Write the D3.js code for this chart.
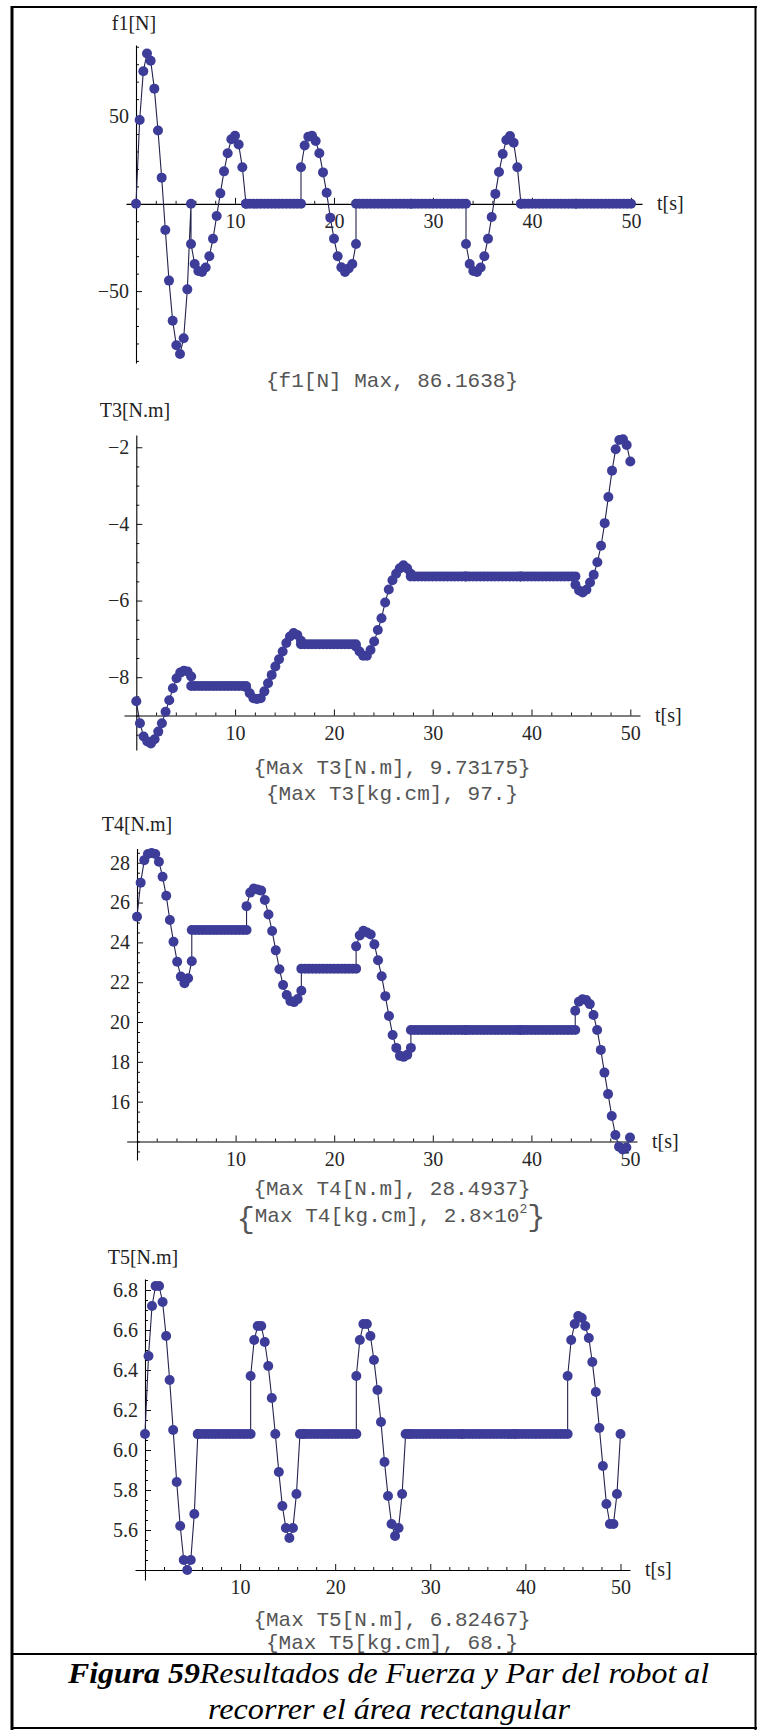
<!DOCTYPE html>
<html><head><meta charset="utf-8">
<script src="https://cdn.jsdelivr.net/npm/d3@7"></script>
<style>
body{margin:0;background:#fff;}
svg{display:block;}
.tick line{stroke:#111;stroke-width:1;}
.domain{stroke:#000;stroke-width:1.1;}
.axlabel{font-family:"Liberation Serif","Times New Roman",serif;font-size:20px;fill:#222;}
.mono{font-family:"Liberation Mono","Courier New",monospace;font-size:21px;fill:#555;}
.cap{font-family:"Liberation Serif","Times New Roman",serif;font-size:30px;font-style:italic;fill:#000;}
</style></head><body>
<svg id="fig" width="757" height="1730"></svg>
<script>
// ---- sampling grid: 9 motion segments, 16 samples each, over 50 s ----
const SEGMENTS = 9, SAMPLES = 16, DURATION = 50;

// ---- series values (16 per segment) ----
const f1Values = [
  0, 48, 76, 86.16, 82, 66, 42, 15, -15, -44, -67, -81, -86, -77, -49, 0,
  -23, -34.5, -38.5, -39, -36.5, -30, -20, -7, 6, 18.6, 29, 37, 39, 34, 21, 0,
  0, 0, 0, 0, 0, 0, 0, 0, 0, 0, 0, 0, 0, 0, 0, 0,
  21, 33.4, 38.5, 39, 36, 29, 18, 6.3, -8, -20, -30, -36.4, -39, -37, -34.5, -23,
  0, 0, 0, 0, 0, 0, 0, 0, 0, 0, 0, 0, 0, 0, 0, 0,
  0, 0, 0, 0, 0, 0, 0, 0, 0, 0, 0, 0, 0, 0, 0, 0,
  -23, -34.5, -38.5, -39, -36.5, -30, -20, -7.5, 5.7, 18.2, 28.5, 36.6, 38.8, 35, 21, 0,
  0, 0, 0, 0, 0, 0, 0, 0, 0, 0, 0, 0, 0, 0, 0, 0,
  0, 0, 0, 0, 0, 0, 0, 0, 0, 0, 0, 0, 0, 0, 0, 0
];
const t3Values = [
  -8.63, -9.2, -9.55, -9.68, -9.73, -9.62, -9.42, -9.2, -8.9, -8.6, -8.29, -8.03, -7.88, -7.83, -7.85, -7.98,
  -8.23, -8.23, -8.23, -8.23, -8.23, -8.23, -8.23, -8.23, -8.23, -8.23, -8.23, -8.23, -8.23, -8.23, -8.23, -8.23,
  -8.26, -8.42, -8.55, -8.57, -8.55, -8.37, -8.16, -7.94, -7.72, -7.53, -7.33, -7.11, -6.94, -6.85, -6.9, -7.05,
  -7.14, -7.14, -7.14, -7.14, -7.14, -7.14, -7.14, -7.14, -7.14, -7.14, -7.14, -7.14, -7.14, -7.14, -7.14, -7.14,
  -7.2, -7.33, -7.44, -7.44, -7.29, -7.07, -6.77, -6.46, -6.05, -5.71, -5.47, -5.3, -5.16, -5.08, -5.16, -5.3,
  -5.37, -5.37, -5.37, -5.37, -5.37, -5.37, -5.37, -5.37, -5.37, -5.37, -5.37, -5.37, -5.37, -5.37, -5.37, -5.37,
  -5.37, -5.37, -5.37, -5.37, -5.37, -5.37, -5.37, -5.37, -5.37, -5.37, -5.37, -5.37, -5.37, -5.37, -5.37, -5.37,
  -5.37, -5.37, -5.37, -5.37, -5.37, -5.37, -5.37, -5.37, -5.37, -5.37, -5.37, -5.37, -5.37, -5.37, -5.37, -5.37,
  -5.59, -5.74, -5.79, -5.72, -5.53, -5.33, -5.0, -4.57, -3.98, -3.3, -2.61, -2.05, -1.81, -1.79, -1.94, -2.37
];
const t4Values = [
  25.29, 27.0, 28.13, 28.44, 28.49, 28.44, 28.05, 27.3, 26.34, 25.12, 24.03, 23.03, 22.28, 21.95, 22.2, 23.05,
  24.62, 24.62, 24.62, 24.62, 24.62, 24.62, 24.62, 24.62, 24.62, 24.62, 24.62, 24.62, 24.62, 24.62, 24.62, 24.62,
  25.82, 26.5, 26.7, 26.66, 26.6, 26.13, 25.4, 24.57, 23.6, 22.65, 21.86, 21.36, 21.05, 21.0, 21.15, 21.57,
  22.68, 22.68, 22.68, 22.68, 22.68, 22.68, 22.68, 22.68, 22.68, 22.68, 22.68, 22.68, 22.68, 22.68, 22.68, 22.68,
  23.8, 24.35, 24.58, 24.5, 24.4, 23.9, 23.1, 22.3, 21.3, 20.3, 19.35, 18.7, 18.3, 18.25, 18.35, 18.7,
  19.6, 19.6, 19.6, 19.6, 19.6, 19.6, 19.6, 19.6, 19.6, 19.6, 19.6, 19.6, 19.6, 19.6, 19.6, 19.6,
  19.6, 19.6, 19.6, 19.6, 19.6, 19.6, 19.6, 19.6, 19.6, 19.6, 19.6, 19.6, 19.6, 19.6, 19.6, 19.6,
  19.6, 19.6, 19.6, 19.6, 19.6, 19.6, 19.6, 19.6, 19.6, 19.6, 19.6, 19.6, 19.6, 19.6, 19.6, 19.6,
  20.57, 21.02, 21.14, 21.1, 20.9, 20.35, 19.6, 18.6, 17.46, 16.38, 15.28, 14.33, 13.74, 13.6, 13.7, 14.2
];
const t5Values = [
  6.08, 6.47, 6.72, 6.82, 6.82, 6.74, 6.57, 6.35, 6.10, 5.84, 5.62, 5.45, 5.40, 5.45, 5.68, 6.08,
  6.08, 6.08, 6.08, 6.08, 6.08, 6.08, 6.08, 6.08, 6.08, 6.08, 6.08, 6.08, 6.08, 6.08, 6.08, 6.08,
  6.37, 6.55, 6.62, 6.62, 6.54, 6.42, 6.26, 6.08, 5.89, 5.72, 5.61, 5.56, 5.61, 5.78, 6.08, 6.08,
  6.08, 6.08, 6.08, 6.08, 6.08, 6.08, 6.08, 6.08, 6.08, 6.08, 6.08, 6.08, 6.08, 6.08, 6.08, 6.08,
  6.37, 6.55, 6.63, 6.63, 6.57, 6.45, 6.30, 6.14, 5.94, 5.77, 5.63, 5.57, 5.61, 5.78, 6.08, 6.08,
  6.08, 6.08, 6.08, 6.08, 6.08, 6.08, 6.08, 6.08, 6.08, 6.08, 6.08, 6.08, 6.08, 6.08, 6.08, 6.08,
  6.08, 6.08, 6.08, 6.08, 6.08, 6.08, 6.08, 6.08, 6.08, 6.08, 6.08, 6.08, 6.08, 6.08, 6.08, 6.08,
  6.08, 6.08, 6.08, 6.08, 6.08, 6.08, 6.08, 6.08, 6.08, 6.08, 6.08, 6.08, 6.08, 6.08, 6.08, 6.08,
  6.37, 6.55, 6.63, 6.67, 6.66, 6.62, 6.56, 6.44, 6.29, 6.11, 5.92, 5.73, 5.63, 5.63, 5.78, 6.08
];

// ---- tick labels ----
const xTicks = [10, 20, 30, 40, 50];
const f1Ticks = [-50, 50];
const t3Ticks = [-8, -6, -4, -2];
const t4Ticks = [16, 18, 20, 22, 24, 26, 28];
const t5Ticks = [5.6, 5.8, 6.0, 6.2, 6.4, 6.6, 6.8];
const yAxisLabels = ["f1[N]", "T3[N.m]", "T4[N.m]", "T5[N.m]"];
const xAxisLabel = "t[s]";
const f1Title = ["{f1[N] Max, 86.1638}"];
const t3Title = ["{Max T3[N.m], 9.73175}", "{Max T3[kg.cm], 97.}"];
const t4Title = ["{Max T4[N.m], 28.4937}", "Max T4[kg.cm], 2.8\u00d710"];
const t5Title = ["{Max T5[N.m], 6.82467}", "{Max T5[kg.cm], 68.}"];

// time grid of the samples
const timeGrid = d3.range(SEGMENTS).flatMap(s =>
  d3.range(SAMPLES).map(k => (s + k / (SAMPLES - 1)) * DURATION / SEGMENTS));

const svg = d3.select("#fig");
svg.append("rect").attr("width", 757).attr("height", 1730).attr("fill", "#fff");

const SERIF = '"Liberation Serif","Times New Roman",serif';

const panels = [
  {values: f1Values, ticks: f1Ticks, fmt: d3.format("d"), minor: 10, label: yAxisLabels[0],
   xDomain: [-1.01, 51.11], xRange: [126, 642], yDomain: [-91.2, 91], yRange: [363, 45], cross: 0,
   labelPos: [134, 23], minorRange: [-90, 90]},
  {values: t3Values, ticks: t3Ticks, fmt: d3.format("d"), minor: 0.5, label: yAxisLabels[1],
   xDomain: [-1.245, 50.98], xRange: [124, 640], yDomain: [-9.9, -1.68], yRange: [750, 435], cross: -9,
   labelPos: [135, 410], minorRange: [-9.5, -2]},
  {values: t4Values, ticks: t4Ticks, fmt: d3.format("d"), minor: 0.5, label: yAxisLabels[2],
   xDomain: [-1.045, 50.71], xRange: [126.7, 637], yDomain: [13.07, 28.72], yRange: [1160, 848.4], cross: 14,
   labelPos: [137, 824], minorRange: [13.5, 28.5]},
  {values: t5Values, ticks: t5Ticks, fmt: d3.format(".1f"), minor: 0.05, label: yAxisLabels[3],
   xDomain: [-1.05, 51.0], xRange: [135, 630], yDomain: [5.35, 6.855], yRange: [1580, 1279], cross: 5.4,
   labelPos: [143, 1257], minorRange: [5.4, 6.85]}
];

const minorX = d3.range(2, 50, 2).filter(v => v % 10 !== 0);

function styleTicks(s) {
  s.selectAll("text").style("font-family", SERIF).style("font-size", "20px").style("fill", "#262626");
}

panels.forEach(p => {
  const x = d3.scaleLinear().domain(p.xDomain).range(p.xRange);
  const y = d3.scaleLinear().domain(p.yDomain).range(p.yRange);
  const g = svg.append("g");
  const yc = y(p.cross), xc = x(0);

  // x axis minor ticks
  g.append("g").attr("transform", `translate(0,${yc})`)
    .call(d3.axisBottom(x).tickValues(minorX).tickSize(-3).tickFormat(""))
    .call(s => s.select(".domain").remove());
  // x axis
  g.append("g").attr("transform", `translate(0,${yc})`)
    .call(d3.axisBottom(x).tickValues(xTicks).tickSizeInner(-6).tickSizeOuter(0).tickPadding(10).tickFormat(d3.format("d")))
    .call(styleTicks);
  // y minor ticks
  const nMin = Math.round((p.minorRange[1] - p.minorRange[0]) / p.minor);
  const minorY = d3.range(nMin + 1).map(i => +(p.minorRange[0] + i * p.minor).toFixed(3))
    .filter(v => !p.ticks.some(t => Math.abs(t - v) < 1e-6));
  g.append("g").attr("transform", `translate(${xc},0)`)
    .call(d3.axisLeft(y).tickValues(minorY).tickSize(-3).tickFormat(""))
    .call(s => s.select(".domain").remove());
  // y axis
  g.append("g").attr("transform", `translate(${xc},0)`)
    .call(d3.axisLeft(y).tickValues(p.ticks).tickSizeInner(-6).tickSizeOuter(0).tickPadding(7).tickFormat(p.fmt))
    .call(styleTicks);

  // axis labels
  g.append("text").attr("class", "axlabel").attr("x", p.labelPos[0]).attr("y", p.labelPos[1])
    .attr("text-anchor", "middle").attr("dy", "0.35em").text(p.label);
  g.append("text").attr("class", "axlabel").attr("x", p.xRange[1] + 15).attr("y", yc)
    .attr("dy", "0.32em").text(xAxisLabel);

  // data
  const pts = timeGrid.map((t, i) => ({t, v: p.values[i]}));
  g.append("path").datum(pts)
    .attr("fill", "none").attr("stroke", "#23234e").attr("stroke-width", 1.1)
    .attr("d", d3.line().x(d => x(d.t)).y(d => y(d.v)));
  g.selectAll("circle").data(pts).join("circle")
    .attr("cx", d => x(d.t)).attr("cy", d => y(d.v)).attr("r", 5)
    .attr("fill", "#3d3d99");
});

// result lines
function monoLine(txt, yy) {
  svg.append("text").attr("class", "mono").attr("x", 392).attr("y", yy)
    .attr("text-anchor", "middle").attr("dy", "0.33em").text(txt);
}
monoLine(f1Title[0], 380);
monoLine(t3Title[0], 767);
monoLine(t3Title[1], 793);
monoLine(t4Title[0], 1188);
{
  const t = svg.append("text").attr("class", "mono").attr("x", 391).attr("y", 1219)
    .attr("text-anchor", "middle").attr("dy", "0.33em");
  t.append("tspan").attr("font-size", "30px").attr("dy", "0.3em").text("{");
  t.append("tspan").attr("dy", "-0.3em").text(t4Title[1]);
  t.append("tspan").attr("font-size", "13px").attr("dy", "-9").text("2");
  t.append("tspan").attr("font-size", "30px").attr("dy", "13").text("}");
}
monoLine(t5Title[0], 1619);
monoLine(t5Title[1], 1642);

// frame
const frame = svg.append("g").attr("stroke", "#000").attr("fill", "none");
frame.append("line").attr("x1", 11).attr("x2", 757).attr("y1", 7).attr("y2", 7).attr("stroke-width", 2);
frame.append("line").attr("x1", 12).attr("x2", 12).attr("y1", 6).attr("y2", 1730).attr("stroke-width", 3);
frame.append("line").attr("x1", 755.5).attr("x2", 755.5).attr("y1", 6).attr("y2", 1730).attr("stroke-width", 2);
frame.append("line").attr("x1", 11).attr("x2", 757).attr("y1", 1728).attr("y2", 1728).attr("stroke-width", 2);
frame.append("line").attr("x1", 11).attr("x2", 757).attr("y1", 1654).attr("y2", 1654).attr("stroke-width", 2);

// caption
const c1 = svg.append("text").attr("class", "cap").attr("x", 68).attr("y", 1683)
  .attr("textLength", 641).attr("lengthAdjust", "spacingAndGlyphs");
c1.append("tspan").attr("font-weight", "bold").text("Figura 59");
c1.append("tspan").text("Resultados de Fuerza y Par del robot al");
svg.append("text").attr("class", "cap").attr("x", 208).attr("y", 1719)
  .attr("textLength", 362).attr("lengthAdjust", "spacingAndGlyphs")
  .text("recorrer el área rectangular");
</script>
</body></html>
